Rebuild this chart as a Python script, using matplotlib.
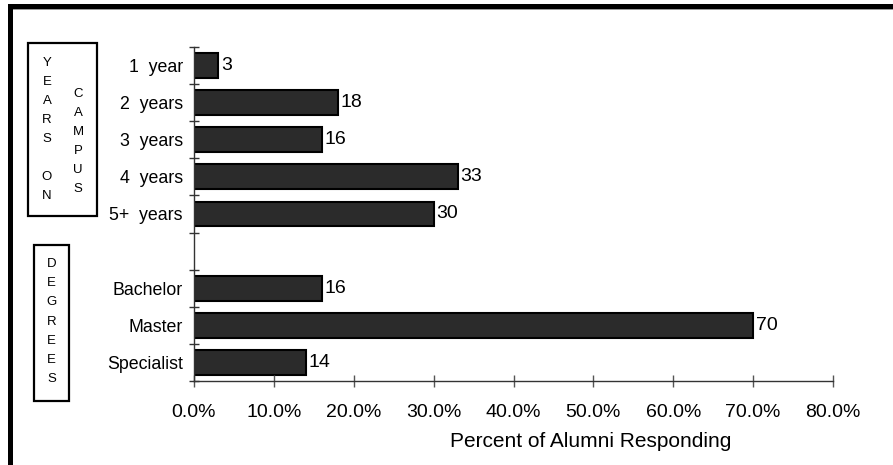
import numpy as np
import matplotlib
matplotlib.use("Agg")
import matplotlib.pyplot as plt
from matplotlib.patches import Rectangle

# data
categories = ["1  year", "2  years", "3  years", "4  years", "5+  years", "",
              "Bachelor", "Master", "Specialist"]
values = [3, 18, 16, 33, 30, None, 16, 70, 14]
xticks = [0, 10, 20, 30, 40, 50, 60, 70, 80]
xlabel = "Percent of Alumni Responding"
box1_col1 = "YEARS ON"
box1_col2 = "CAMPUS"
box2_text = "DEGREES"

plt.rcParams["font.family"] = ["Liberation Sans", "DejaVu Sans"]

W, H = 893, 465
fig = plt.figure(figsize=(W / 100, H / 100), dpi=100)

def fx(x):
    return x / W

def fy(y):
    return 1 - y / H

# axes from pixel box
left, right, top, bottom = 194, 833, 47, 381
ax = fig.add_axes([fx(left), fy(bottom), fx(right) - fx(left), fy(top) - fy(bottom)])

pos = np.arange(len(categories))
for i, v in enumerate(values):
    if v is None:
        continue
    ax.barh(pos[i], v, height=0.67, color="#2b2b2b", edgecolor="black", linewidth=1.5)
    ax.annotate(str(v), (v, pos[i]), xytext=(2, 0), textcoords="offset points",
                va="center", ha="left", fontsize=14)

ax.set_xlim(0, 80)
ax.set_ylim(len(categories) - 0.5, -0.5)
ax.set_yticks(pos)
ax.set_yticklabels(categories, fontsize=12.8)
ax.set_yticks(np.arange(len(categories) + 1) - 0.5, minor=True)
ax.tick_params(axis="y", which="major", length=0, pad=8)
ax.tick_params(axis="y", which="minor", direction="inout", length=6.5, width=1, color="#333333")
ax.set_xticks(xticks)
ax.set_xticklabels([f"{t:.1f}%" for t in xticks], fontsize=14)
ax.tick_params(axis="x", direction="inout", length=8.6, width=1, color="#555555", pad=12)

for s in ["top", "right"]:
    ax.spines[s].set_visible(False)
for s in ["left", "bottom"]:
    ax.spines[s].set_color("#333333")
    ax.spines[s].set_linewidth(1)

fig.text(fx(591), fy(441), xlabel, ha="center", va="center", fontsize=15)

# outer frame lines (top and left)
fig.add_artist(Rectangle((fx(8), fy(9)), 1 - fx(8), fy(4) - fy(9), transform=fig.transFigure,
                         facecolor="black", edgecolor="none"))
fig.add_artist(Rectangle((fx(13), fy(10.5)), 1 - fx(13), fy(9) - fy(10.5), transform=fig.transFigure,
                         facecolor="#9a9a9a", edgecolor="none"))
fig.add_artist(Rectangle((fx(8), 0), fx(13) - fx(8), fy(4), transform=fig.transFigure,
                         facecolor="black", edgecolor="none"))

# label boxes
def box(x0, y0, x1, y1):
    fig.add_artist(Rectangle((fx(x0), fy(y1)), fx(x1) - fx(x0), fy(y0) - fy(y1),
                             transform=fig.transFigure, facecolor="none",
                             edgecolor="black", linewidth=1.6))

def vertical(word, x, y0, step):
    for k, ch in enumerate(word):
        if ch == " ":
            continue
        fig.text(fx(x), fy(y0 + k * step), ch, ha="center", va="center", fontsize=9.5)

box(28, 43, 97, 216)
vertical(box1_col1, 47, 63, 19)
vertical(box1_col2, 78, 94, 19)

box(34, 245, 69, 401)
vertical(box2_text, 51.5, 264, 19.2)

fig.savefig("out.png", dpi=100)
